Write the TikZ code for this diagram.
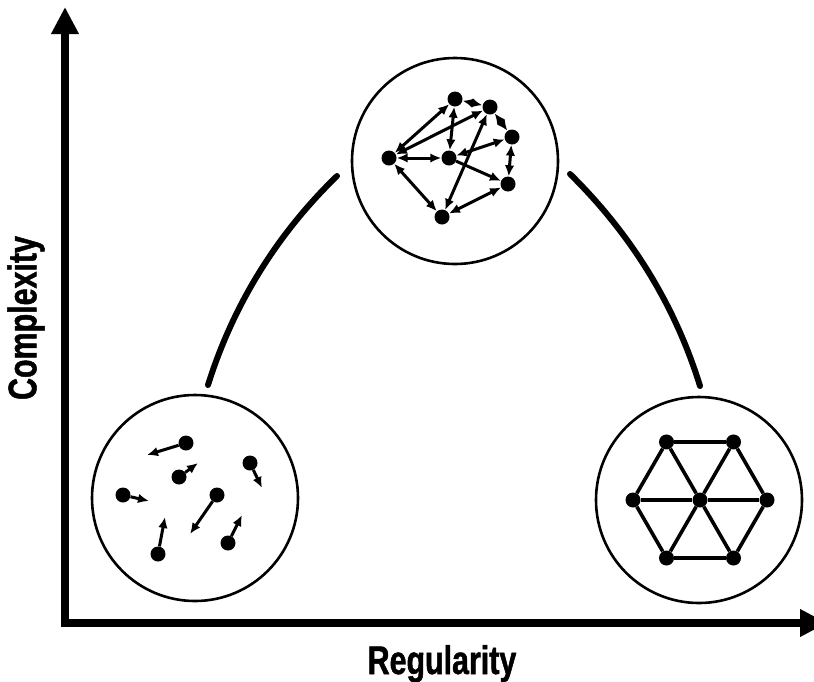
\documentclass[tikz,border=0pt]{standalone}
\usepackage{fontspec}
\newfontfamily\axisfont[FakeStretch=0.76, BoldFeatures={FakeBold=1.2}]{Liberation Sans}
\usetikzlibrary{arrows.meta, calc}

\begin{document}
\begin{tikzpicture}[x=1pt, y=-1pt,
    dot/.style={circle, fill=black, inner sep=0pt, minimum size=15pt},
    zone/.style={circle, draw=black, line width=2.6pt, minimum size=206pt, inner sep=0pt},
    axis/.style={line width=7.5pt, -{Triangle[length=27pt,width=26pt]}},
    link/.style={line width=6pt, line cap=round},
    flow/.style={line width=3pt, {Latex[length=11pt,width=9.5pt]}-{Latex[length=11pt,width=9.5pt]}},
    drift/.style={line width=3pt, -{Latex[length=11pt,width=9.5pt]}},
    bond/.style={line width=3.6pt},
    axislabel/.style={font=\axisfont\bfseries\fontsize{40}{40}\selectfont}]
    \clip (0,0) rectangle (814,681);

    % axes
    \coordinate (origin) at (65,623);
    \coordinate (ytip) at (65,7);
    \coordinate (xtip) at (827,623);
    \draw[axis] ($(origin)+(0,4)$) -- (ytip);
    \draw[axis] ($(origin)+(-4,0)$) -- (xtip);
    \node[axislabel, rotate=90] (ylab) at (26,318) {Complexity};
    \node[axislabel, anchor=base] (xlab) at (442,674) {Regularity};

    % three states
    \node[zone] (lo) at (195,498) {};
    \node[zone] (hub) at (455,161) {};
    \node[zone] (hi) at (699,500) {};

    \coordinate (l1) at (208,385);
    \coordinate (l2) at (337,176);
    \coordinate (r1) at (700,386);
    \coordinate (r2) at (570,174);
    \draw[link] (l1) .. controls (233,305) and (277,234) .. (l2);
    \draw[link] (r1) .. controls (675,305) and (631,234) .. (r2);

    % random particles
    \foreach \n/\x/\y/\u/\v in {1/186/443/147/455, 2/179/477/198/463, 3/250/463/262/488,
                                4/123/495/149/501, 5/217/495/190/534, 6/158/554/165/517,
                                7/228/543/242/515} {
        \node[dot] (p\n) at (\x,\y) {};
        \coordinate (t\n) at (\u,\v);
        \draw[drift] (p\n) -- (t\n);
    }

    % network
    \node[dot] (a) at (455,99) {};
    \node[dot] (b) at (490,107) {};
    \node[dot] (c) at (512,137) {};
    \node[dot] (d) at (508,184) {};
    \node[dot] (e) at (442,217) {};
    \node[dot] (f) at (389,158) {};
    \node[dot] (g) at (449,158) {};
    \foreach \s/\t in {f/a, f/b, f/g, f/e, a/g, a/b, b/c, c/d, g/c, b/e, e/d}
        \draw[flow] (\s) -- (\t);
    \draw[drift] (g) -- (d);

    % lattice
    \node[dot] (x0) at (700,500) {};
    \foreach \i in {1,...,6}
        \node[dot] (x\i) at ($(x0)+({60*\i}:67)$) {};
    \foreach \i [evaluate=\i as \j using {int(mod(\i,6)+1)}] in {1,...,6} {
        \draw[bond] (x\i) -- (x\j);
        \draw[bond] (x0) -- (x\i);
    }
\end{tikzpicture}
\end{document}
